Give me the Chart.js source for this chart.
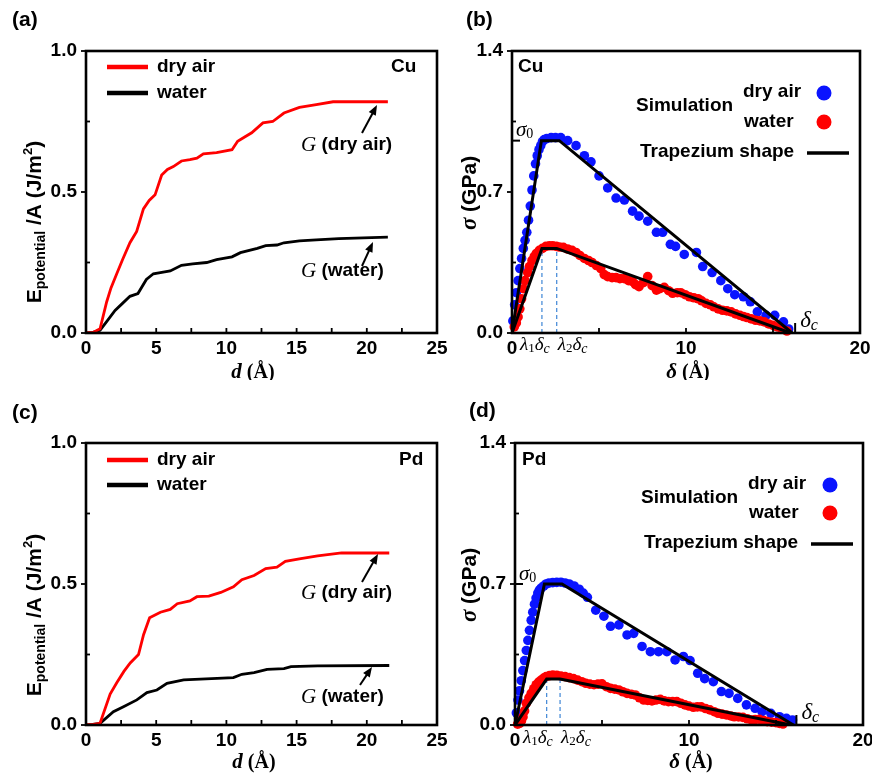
<!DOCTYPE html>
<html>
<head>
<meta charset="utf-8">
<script src="https://cdn.jsdelivr.net/npm/chart.js@4.4.1/dist/chart.umd.min.js"></script>
<style>
  body { margin: 0; width: 872px; height: 776px; overflow: hidden; background: #fff; position: relative; }
  canvas { position: absolute; }
</style>
</head>
<body>
<canvas id="chartA" width="460" height="380" style="left:0;top:0"></canvas>
<canvas id="chartB" width="450" height="380" style="left:436px;top:0"></canvas>
<canvas id="chartC" width="460" height="396" style="left:0;top:380px"></canvas>
<canvas id="chartD" width="450" height="396" style="left:436px;top:380px"></canvas>
<script>
'use strict';

// (a) Cu, potential energy per area vs separation d
let cuAirD = [0, 0.5, 1.0, 1.47, 1.78, 2.19, 2.6, 3.13, 3.61, 4.09, 4.5, 4.92, 5.39, 5.8, 6.22, 6.8, 7.4, 7.9, 8.36, 9.3, 10.4, 10.8, 11.3, 11.8, 12.6, 13.3, 14.1, 15.2, 16.4, 17.6, 19.0, 21.5];
let cuAirE = [0, 0.002, 0.015, 0.11, 0.16, 0.21, 0.26, 0.32, 0.36, 0.44, 0.47, 0.49, 0.56, 0.58, 0.59, 0.61, 0.615, 0.62, 0.635, 0.64, 0.65, 0.68, 0.695, 0.71, 0.745, 0.75, 0.78, 0.80, 0.81, 0.82, 0.82, 0.82];
let cuWaterD = [0, 0.5, 1.0, 1.47, 2.07, 2.6, 3.13, 3.7, 4.3, 4.8, 5.4, 6.0, 6.8, 7.6, 8.6, 9.3, 10.4, 11.0, 12.2, 12.8, 13.6, 14.1, 15.2, 16.4, 18.0, 21.5];
let cuWaterE = [0, 0.002, 0.01, 0.04, 0.08, 0.105, 0.13, 0.14, 0.19, 0.21, 0.215, 0.22, 0.24, 0.245, 0.25, 0.26, 0.27, 0.285, 0.30, 0.31, 0.312, 0.32, 0.327, 0.33, 0.335, 0.34];

// (c) Pd
let pdAirD = [0, 0.5, 1.0, 1.72, 2.19, 2.7, 3.15, 3.74, 4.1, 4.53, 5.3, 6.0, 6.5, 7.4, 7.9, 8.75, 9.6, 10.5, 11.1, 11.97, 12.8, 13.6, 14.2, 15.3, 16.5, 18.2, 21.6];
let pdAirE = [0, 0.002, 0.006, 0.11, 0.15, 0.19, 0.22, 0.25, 0.32, 0.38, 0.40, 0.41, 0.43, 0.44, 0.455, 0.457, 0.47, 0.49, 0.515, 0.53, 0.555, 0.56, 0.58, 0.59, 0.60, 0.61, 0.61];
let pdWaterD = [0, 0.5, 1.0, 1.95, 2.67, 3.62, 4.34, 5.05, 5.77, 6.96, 9.34, 10.5, 11.1, 11.97, 12.9, 14.1, 14.6, 16.5, 21.6];
let pdWaterE = [0, 0.002, 0.006, 0.047, 0.065, 0.089, 0.115, 0.124, 0.148, 0.16, 0.165, 0.168, 0.18, 0.186, 0.197, 0.2, 0.207, 0.21, 0.211];

// (b) Cu traction-separation, simulation points
let cuAirDelta = [0.05, 0.15, 0.25, 0.35, 0.45, 0.55, 0.65, 0.75, 0.85, 0.95, 1.05, 1.15, 1.25, 1.35, 1.45, 1.55, 1.65, 1.75, 1.85, 2.0, 2.25, 2.5, 2.8, 3.2, 3.68, 4.16, 4.54, 5.0, 5.5, 5.98, 6.46, 6.93, 7.3, 7.8, 8.3, 8.66, 9.1, 9.4, 9.9, 10.6, 10.96, 11.5, 12.0, 12.4, 12.8, 13.3, 13.7, 14.1, 14.6, 15.1, 15.6, 15.9];
let cuAirSigma = [0.06, 0.14, 0.2, 0.26, 0.32, 0.37, 0.42, 0.46, 0.5, 0.56, 0.63, 0.71, 0.78, 0.84, 0.88, 0.91, 0.93, 0.95, 0.96, 0.965, 0.97, 0.97, 0.97, 0.955, 0.93, 0.88, 0.85, 0.78, 0.72, 0.67, 0.66, 0.605, 0.58, 0.555, 0.50, 0.50, 0.44, 0.43, 0.39, 0.40, 0.33, 0.30, 0.26, 0.22, 0.19, 0.18, 0.155, 0.105, 0.088, 0.088, 0.055, 0.02];
let cuWaterDelta = [0.13, 0.25, 0.35, 0.45, 0.55, 0.65, 0.75, 0.9, 1.0, 1.15, 1.28, 1.4, 1.57, 1.75, 1.95, 2.15, 2.34, 2.55, 2.72, 2.95, 3.2, 3.45, 3.68, 3.9, 4.16, 4.4, 4.6, 4.85, 5.1, 5.3, 5.5, 5.75, 5.98, 6.2, 6.46, 6.7, 6.93, 7.1, 7.3, 7.55, 7.8, 8.05, 8.3, 8.5, 8.75, 9.0, 9.23, 9.5, 9.7, 9.95, 10.2, 10.45, 10.7, 10.9, 11.15, 11.4, 11.6, 11.85, 12.1, 12.35, 12.6, 12.85, 13.1, 13.3, 13.5, 13.75, 14.0, 14.25, 14.5, 14.75, 15.0, 15.25, 15.5, 15.8];
let cuWaterSigma = [0.03, 0.05, 0.08, 0.12, 0.17, 0.22, 0.26, 0.3, 0.33, 0.36, 0.38, 0.395, 0.41, 0.42, 0.43, 0.433, 0.433, 0.43, 0.427, 0.425, 0.417, 0.41, 0.40, 0.385, 0.37, 0.36, 0.35, 0.335, 0.32, 0.29, 0.28, 0.275, 0.275, 0.27, 0.27, 0.26, 0.255, 0.24, 0.23, 0.25, 0.28, 0.235, 0.213, 0.22, 0.227, 0.21, 0.197, 0.2, 0.2, 0.19, 0.18, 0.175, 0.17, 0.16, 0.147, 0.14, 0.13, 0.12, 0.113, 0.11, 0.105, 0.095, 0.088, 0.082, 0.077, 0.07, 0.063, 0.06, 0.055, 0.045, 0.038, 0.03, 0.022, 0.01];

// (d) Pd simulation points
let pdAirDelta = [0.08, 0.17, 0.26, 0.36, 0.45, 0.55, 0.65, 0.74, 0.83, 0.93, 1.02, 1.12, 1.21, 1.31, 1.4, 1.5, 1.65, 1.79, 1.95, 2.17, 2.4, 2.64, 2.88, 3.12, 3.4, 3.69, 3.92, 4.16, 4.64, 5.11, 5.49, 5.97, 6.44, 6.82, 7.3, 7.78, 8.25, 8.73, 9.2, 9.68, 10.06, 10.5, 10.9, 11.4, 11.86, 12.3, 12.8, 13.3, 13.8, 14.2, 14.7, 15.2, 15.6, 15.95];
let pdAirSigma = [0.06, 0.124, 0.17, 0.22, 0.27, 0.32, 0.37, 0.42, 0.47, 0.52, 0.56, 0.60, 0.63, 0.655, 0.67, 0.68, 0.69, 0.70, 0.705, 0.707, 0.708, 0.709, 0.705, 0.70, 0.69, 0.674, 0.655, 0.634, 0.57, 0.54, 0.49, 0.497, 0.447, 0.455, 0.39, 0.364, 0.364, 0.364, 0.323, 0.34, 0.32, 0.257, 0.23, 0.215, 0.166, 0.157, 0.132, 0.10, 0.083, 0.066, 0.058, 0.041, 0.033, 0.025];
let pdWaterDelta = [0.15, 0.27, 0.37, 0.46, 0.55, 0.65, 0.8, 0.93, 1.08, 1.22, 1.36, 1.5, 1.65, 1.79, 1.98, 2.17, 2.4, 2.64, 2.88, 3.12, 3.36, 3.6, 3.84, 4.07, 4.3, 4.54, 4.77, 5.0, 5.25, 5.49, 5.73, 5.97, 6.2, 6.44, 6.68, 6.92, 7.15, 7.4, 7.63, 7.87, 8.1, 8.35, 8.58, 8.82, 9.06, 9.3, 9.53, 9.77, 10.0, 10.25, 10.48, 10.7, 10.95, 11.2, 11.45, 11.67, 11.9, 12.15, 12.4, 12.6, 12.85, 13.1, 13.35, 13.6, 13.8, 14.05, 14.3, 14.5, 14.75, 15.0, 15.2, 15.4];
let pdWaterSigma = [0.004, 0.008, 0.02, 0.04, 0.07, 0.108, 0.135, 0.157, 0.18, 0.2, 0.213, 0.223, 0.233, 0.24, 0.245, 0.248, 0.247, 0.243, 0.24, 0.235, 0.23, 0.223, 0.215, 0.207, 0.203, 0.2, 0.203, 0.204, 0.19, 0.182, 0.178, 0.174, 0.165, 0.157, 0.153, 0.149, 0.135, 0.124, 0.122, 0.12, 0.124, 0.127, 0.12, 0.116, 0.116, 0.116, 0.108, 0.1, 0.094, 0.088, 0.09, 0.09, 0.082, 0.075, 0.066, 0.058, 0.054, 0.05, 0.045, 0.041, 0.04, 0.038, 0.031, 0.025, 0.027, 0.028, 0.022, 0.017, 0.014, 0.012, 0.008, 0.005];

// trapezium fits: 0, lambda1*dc, lambda2*dc, dc
let cuAirTrapX = [0, 1.69, 2.72, 16.1];
let cuAirTrapY = [0, 0.955, 0.955, 0];
let cuWaterTrapX = [0, 1.72, 2.57, 16.0];
let cuWaterTrapY = [0, 0.42, 0.42, 0];
let pdAirTrapX = [0, 1.69, 2.7, 16.0];
let pdAirTrapY = [0, 0.70, 0.70, 0];
let pdWaterTrapX = [0, 1.82, 2.59, 15.85];
let pdWaterTrapY = [0, 0.228, 0.228, 0];

const SANS = '"Liberation Sans", Arial, sans-serif';
const SERIF = '"Liberation Serif", "Times New Roman", serif';
const TICK_FONT = { family: SANS, size: 19, weight: 'bold' };
const RED = '#ff0000';
const BLUE = '#0a14ff';

function pts(xs, ys) {
  let out = [];
  for (let i = 0; i < xs.length; i++) {
    out.push({ x: xs[i], y: ys[i] });
  }
  return out;
}

// text with mixed fonts (sub/superscripts), y is the middle line
function rich(ctx, x, y, runs, align) {
  let w = 0;
  for (let r of runs) { ctx.font = r[1]; w += ctx.measureText(r[0]).width; }
  let cx = align === 'center' ? x - w / 2 : x;
  ctx.textAlign = 'left';
  ctx.textBaseline = 'middle';
  for (let r of runs) {
    ctx.font = r[1];
    ctx.fillText(r[0], cx, y + (r[2] || 0));
    cx += ctx.measureText(r[0]).width;
  }
}

function arrow(ctx, x1, y1, x2, y2) {
  let a = Math.atan2(y2 - y1, x2 - x1);
  ctx.lineWidth = 2;
  ctx.beginPath();
  ctx.moveTo(x1, y1);
  ctx.lineTo(x2 - 7 * Math.cos(a), y2 - 7 * Math.sin(a));
  ctx.stroke();
  ctx.beginPath();
  ctx.moveTo(x2, y2);
  ctx.lineTo(x2 - 10 * Math.cos(a) + 4 * Math.sin(a), y2 - 10 * Math.sin(a) - 4 * Math.cos(a));
  ctx.lineTo(x2 - 10 * Math.cos(a) - 4 * Math.sin(a), y2 - 10 * Math.sin(a) + 4 * Math.cos(a));
  ctx.closePath();
  ctx.fill();
}

function hline(ctx, x1, x2, y, w) {
  ctx.lineWidth = w;
  ctx.beginPath();
  ctx.moveTo(x1, y);
  ctx.lineTo(x2, y);
  ctx.stroke();
}

// box around the plot and inward ticks (major + half-way minors)
const framePlugin = {
  id: 'frame',
  afterDraw(chart) {
    let ctx = chart.ctx;
    let a = chart.chartArea;
    let xs = chart.scales.x;
    let ys = chart.scales.y;
    ctx.save();
    ctx.strokeStyle = '#000';
    ctx.lineWidth = 1.8;
    let xv = xs.ticks.map(t => t.value);
    for (let i = 0; i < xv.length; i++) {
      let vals = [xv[i]];
      if (i > 0) vals.push((xv[i] + xv[i - 1]) / 2);
      for (let v of vals) {
        let p = xs.getPixelForValue(v);
        ctx.beginPath(); ctx.moveTo(p, a.bottom); ctx.lineTo(p, a.bottom - 5); ctx.stroke();
      }
    }
    let yv = ys.ticks.map(t => t.value);
    for (let i = 0; i < yv.length; i++) {
      let p = ys.getPixelForValue(yv[i]);
      ctx.beginPath(); ctx.moveTo(a.left - 5, p); ctx.lineTo(a.left, p); ctx.stroke();
      if (i > 0) {
        p = ys.getPixelForValue((yv[i] + yv[i - 1]) / 2);
        ctx.beginPath(); ctx.moveTo(a.left, p); ctx.lineTo(a.left + 4, p); ctx.stroke();
      }
    }
    ctx.lineWidth = 2.6;
    ctx.strokeRect(a.left, a.top, a.right - a.left, a.bottom - a.top);
    ctx.restore();
  }
};

function energyDeco(c) {
  return {
    id: 'energyDeco',
    afterDraw(chart) {
      let ctx = chart.ctx;
      ctx.save();
      ctx.fillStyle = '#000';
      ctx.strokeStyle = '#000';
      rich(ctx, 12, c.tagY, [[c.tag, 'bold 21px ' + SANS]]);
      ctx.strokeStyle = RED;
      hline(ctx, 107, 148, c.legendY[0], 4.5);
      ctx.strokeStyle = '#000';
      hline(ctx, 107, 148, c.legendY[1], 4.5);
      rich(ctx, 157, c.legendY[0], [['dry air', 'bold 19px ' + SANS]]);
      rich(ctx, 157, c.legendY[1], [['water', 'bold 19px ' + SANS]]);
      rich(ctx, c.metalX, c.legendY[0], [[c.metal, 'bold 19px ' + SANS]]);
      rich(ctx, 301, c.gAirY, [['G', 'italic 21px ' + SERIF], [' (dry air)', 'bold 19px ' + SANS]]);
      rich(ctx, 301, c.gWaterY, [['G', 'italic 21px ' + SERIF], [' (water)', 'bold 19px ' + SANS]]);
      arrow(ctx, c.airArrow[0], c.airArrow[1], c.airArrow[2], c.airArrow[3]);
      arrow(ctx, c.waterArrow[0], c.waterArrow[1], c.waterArrow[2], c.waterArrow[3]);
      // axis titles
      rich(ctx, c.xTitle[0], c.xTitle[1], [['d', 'bold italic 21px ' + SERIF], [' (\u00C5)', 'bold 20px ' + SERIF]], 'center');
      ctx.translate(c.yTitle[0], c.yTitle[1]);
      ctx.rotate(-Math.PI / 2);
      rich(ctx, 0, 0, [['E', 'bold 21px ' + SANS], ['potential', 'bold 14px ' + SANS, 6], [' /A (J/m', 'bold 21px ' + SANS], ['2', 'bold 13px ' + SANS, -7], [')', 'bold 21px ' + SANS]], 'center');
      ctx.restore();
    }
  };
}

function stressDeco(c) {
  return {
    id: 'stressDeco',
    afterDraw(chart) {
      let ctx = chart.ctx;
      let a = chart.chartArea;
      let xs = chart.scales.x;
      let ys = chart.scales.y;
      ctx.save();
      ctx.fillStyle = '#000';
      ctx.strokeStyle = '#000';
      rich(ctx, c.tagX, c.tagY, [[c.tag, 'bold 21px ' + SANS]]);
      rich(ctx, c.metalX, c.metalY, [[c.metal, 'bold 19px ' + SANS]]);
      rich(ctx, c.simX, c.simY, [['Simulation', 'bold 19px ' + SANS]]);
      rich(ctx, c.dryX, c.dryY, [['dry air', 'bold 19px ' + SANS]]);
      rich(ctx, c.dryX + 1, c.wetY, [['water', 'bold 19px ' + SANS]]);
      rich(ctx, c.trapX, c.trapY, [['Trapezium shape', 'bold 19px ' + SANS]]);
      hline(ctx, c.trapX + 167, c.trapX + 209, c.trapY + 1, 3.5);
      ctx.fillStyle = BLUE;
      ctx.beginPath(); ctx.arc(c.dotX, c.dryY + 1, 7.5, 0, Math.PI * 2); ctx.fill();
      ctx.fillStyle = RED;
      ctx.beginPath(); ctx.arc(c.dotX, c.wetY, 7.5, 0, Math.PI * 2); ctx.fill();
      ctx.fillStyle = '#000';
      // sigma_0 and delta_c marks
      let ps = ys.getPixelForValue(c.s0);
      hline(ctx, a.left, a.left + 8, ps, 2);
      rich(ctx, a.left + 4, ps - 10, [['\u03C3', 'italic 21px ' + SERIF], ['0', '14px ' + SERIF, 4]]);
      let pd = xs.getPixelForValue(c.dc);
      ctx.lineWidth = 2;
      ctx.beginPath(); ctx.moveTo(pd + 3, a.bottom); ctx.lineTo(pd + 3, a.bottom - 10); ctx.stroke();
      rich(ctx, pd + 8, a.bottom - 12, [['\u03B4', 'italic 23px ' + SERIF], ['c', 'italic 16px ' + SERIF, 5]]);
      // lambda labels under the dashed lines
      let lam = (i) => [['\u03BB', 'italic 19px ' + SERIF], [i, '13px ' + SERIF, 4], ['\u03B4', 'italic 19px ' + SERIF], ['c', 'italic 14px ' + SERIF, 4]];
      rich(ctx, a.left + 8, a.bottom + c.lamDy, lam('1'));
      rich(ctx, xs.getPixelForValue(c.l2) + 1, a.bottom + c.lamDy, lam('2'));
      // axis titles
      rich(ctx, c.xTitle[0], c.xTitle[1], [['\u03B4', 'bold italic 21px ' + SERIF], [' (\u00C5)', 'bold 20px ' + SERIF]], 'center');
      ctx.translate(c.yTitle[0], c.yTitle[1]);
      ctx.rotate(-Math.PI / 2);
      rich(ctx, 0, 0, [['\u03C3', 'bold italic 23px ' + SERIF], [' (GPa)', 'bold 21px ' + SANS]], 'center');
      ctx.restore();
    }
  };
}

function makeOptions(xMax, xStep, yMax, yStep, leftW, top, bottomH, right) {
  return {
    responsive: false,
    animation: false,
    devicePixelRatio: 1,
    layout: { padding: { left: 0, top: top, right: right, bottom: 0 } },
    plugins: { legend: { display: false }, tooltip: { enabled: false } },
    scales: {
      x: {
        type: 'linear', position: 'bottom', min: 0, max: xMax,
        ticks: { stepSize: xStep, color: '#000', font: TICK_FONT, padding: 4, maxRotation: 0, autoSkip: false },
        grid: { display: false, drawTicks: false },
        border: { display: false },
        afterFit: (s) => { s.height = bottomH; }
      },
      y: {
        type: 'linear', position: 'left', min: 0, max: yMax,
        ticks: { stepSize: yStep, color: '#000', font: TICK_FONT, padding: 9, callback: (v) => v.toFixed(1) },
        grid: { display: false, drawTicks: false },
        border: { display: false },
        afterFit: (s) => { s.width = leftW; }
      }
    }
  };
}

function lineSet(xs, ys, color) {
  return { data: pts(xs, ys), showLine: true, borderColor: color, borderWidth: 2.8, pointRadius: 0, tension: 0 };
}

function stressSets(airX, airY, wetX, wetY, trapAX, trapAY, trapWX, trapWY) {
  return [
    { data: pts(trapAX, trapAY), showLine: true, borderColor: '#000', borderWidth: 3, pointRadius: 0, order: 0 },
    { data: pts(trapWX, trapWY), showLine: true, borderColor: '#000', borderWidth: 3, pointRadius: 0, order: 0 },
    { data: [{ x: trapWX[1], y: 0 }, { x: trapWX[1], y: trapWY[1] }], showLine: true, borderColor: '#3f86d6', borderWidth: 1.2, borderDash: [4, 3], pointRadius: 0, order: 1 },
    { data: [{ x: trapWX[2], y: 0 }, { x: trapWX[2], y: trapWY[2] }], showLine: true, borderColor: '#3f86d6', borderWidth: 1.2, borderDash: [4, 3], pointRadius: 0, order: 1 },
    { data: pts(wetX, wetY), pointRadius: 4.8, pointBackgroundColor: RED, pointBorderWidth: 0, clip: false, order: 2 },
    { data: pts(airX, airY), pointRadius: 4.8, pointBackgroundColor: BLUE, pointBorderWidth: 0, clip: false, order: 3 }
  ];
}

new Chart(document.getElementById('chartA'), {
  type: 'scatter',
  data: { datasets: [lineSet(cuAirD, cuAirE, RED), lineSet(cuWaterD, cuWaterE, '#000')] },
  options: makeOptions(25, 5, 1, 0.5, 86, 51, 47, 23),
  plugins: [framePlugin, energyDeco({
    tag: '(a)', tagY: 20, metal: 'Cu', metalX: 391, legendY: [67, 93],
    gAirY: 145, gWaterY: 271, airArrow: [362, 133, 377, 105], waterArrow: [362, 266, 373, 242],
    xTitle: [253, 373], yTitle: [35, 222]
  })]
});

new Chart(document.getElementById('chartB'), {
  type: 'scatter',
  data: { datasets: stressSets(cuAirDelta, cuAirSigma, cuWaterDelta, cuWaterSigma, cuAirTrapX, cuAirTrapY, cuWaterTrapX, cuWaterTrapY) },
  options: makeOptions(20, 10, 1.4, 0.7, 76, 51, 47, 26),
  plugins: [framePlugin, stressDeco({
    tag: '(b)', tagX: 30, tagY: 20, metal: 'Cu', metalX: 82, metalY: 67,
    simX: 200, simY: 106, dryX: 307, dryY: 92, wetY: 122, dotX: 388, trapX: 204, trapY: 152,
    s0: cuAirTrapY[1], dc: cuAirTrapX[3], l2: cuWaterTrapX[2], lamDy: 12,
    xTitle: [252, 373], yTitle: [34, 193]
  })]
});

new Chart(document.getElementById('chartC'), {
  type: 'scatter',
  data: { datasets: [lineSet(pdAirD, pdAirE, RED), lineSet(pdWaterD, pdWaterE, '#000')] },
  options: makeOptions(25, 5, 1, 0.5, 86, 63, 51, 23),
  plugins: [framePlugin, energyDeco({
    tag: '(c)', tagY: 33, metal: 'Pd', metalX: 399, legendY: [80, 105],
    gAirY: 213, gWaterY: 317, airArrow: [362, 202, 378, 174], waterArrow: [360, 305, 372, 287],
    xTitle: [254, 383], yTitle: [35, 235]
  })]
});

new Chart(document.getElementById('chartD'), {
  type: 'scatter',
  data: { datasets: stressSets(pdAirDelta, pdAirSigma, pdWaterDelta, pdWaterSigma, pdAirTrapX, pdAirTrapY, pdWaterTrapX, pdWaterTrapY) },
  options: makeOptions(20, 10, 1.4, 0.7, 79, 63, 51, 23),
  plugins: [framePlugin, stressDeco({
    tag: '(d)', tagX: 33, tagY: 31, metal: 'Pd', metalX: 86, metalY: 80,
    simX: 205, simY: 118, dryX: 312, dryY: 104, wetY: 133, dotX: 394, trapX: 208, trapY: 163,
    s0: pdAirTrapY[1], dc: pdAirTrapX[3], l2: pdWaterTrapX[2], lamDy: 13,
    xTitle: [255, 383], yTitle: [34, 205]
  })]
});
</script>
</body>
</html>
